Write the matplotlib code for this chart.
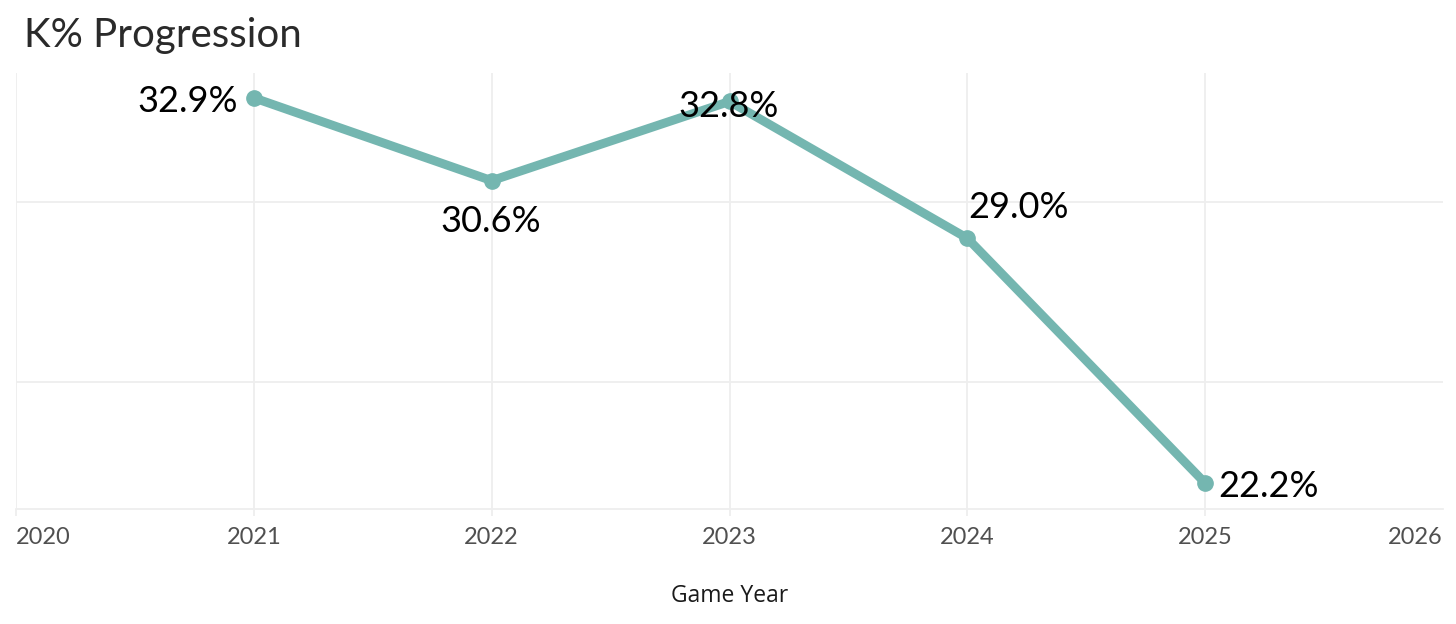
import matplotlib
matplotlib.use("Agg")
import matplotlib.pyplot as plt

years = [2021, 2022, 2023, 2024, 2025]
k_pct = [32.9, 30.6, 32.8, 29.0, 22.2]
labels = ["32.9%", "30.6%", "32.8%", "29.0%", "22.2%"]
x_ticks = [2020, 2021, 2022, 2023, 2024, 2025, 2026]
y_grid = [25, 30]

# label placement (offset pixels, alignment)
label_pos = [(-16, -14, "right"), (-1, -51, "center"), (-1, -16, "center"),
             (1, 20, "left"), (13, -14, "left")]

LINE = "#74b6b0"
GRID = "#eeeeee"

fig = plt.figure(figsize=(14.56, 6.24), dpi=100)
ax = fig.add_axes([16 / 1456, 115 / 624, (1443 - 16) / 1456, (509 - 73) / 624])

ax.plot(years, k_pct, color=LINE, lw=6.4, marker="o", markersize=11,
        solid_capstyle="round", solid_joinstyle="round", zorder=3)

for x, y, t, (dx, dy, ha) in zip(years, k_pct, labels, label_pos):
    ax.annotate(t, (x, y), xytext=(dx, dy), textcoords="offset pixels",
                ha=ha, va="baseline", fontsize=26, family="Lato",
                color="black", zorder=4)

ax.set_xlim(2020, 2026)
ax.set_ylim(21.48, 33.59)
ax.set_xticks(x_ticks)
ax.set_xticklabels([str(v) for v in x_ticks], family="Lato", fontsize=17,
                   color="#505050")
ax.set_yticks(y_grid)
ax.set_yticklabels([])
ax.tick_params(axis="y", length=0)
ax.tick_params(axis="x", length=5, width=1.3, color=GRID, pad=8)

ax.grid(True, color=GRID, lw=1.3, zorder=0)
ax.set_axisbelow(True)
ticks = ax.xaxis.get_major_ticks()
ticks[-1].gridline.set_visible(False)
ticks[-1].tick1line.set_visible(False)
tl = ax.get_xticklabels()
tl[0].set_ha("left")
tl[-1].set_ha("right")

for s in ["top", "right", "left"]:
    ax.spines[s].set_visible(False)
ax.spines["bottom"].set_color(GRID)
ax.spines["bottom"].set_linewidth(1.3)

ax.set_xlabel("Game Year", family="Open Sans", fontsize=16.5, color="#1a1a1a",
              labelpad=26)

fig.text(24 / 1456, 1 - 47 / 624, "K% Progression", family="Lato",
         fontsize=29, color="#2a2a2a", va="baseline", ha="left")

fig.savefig("out.png", dpi=100)
